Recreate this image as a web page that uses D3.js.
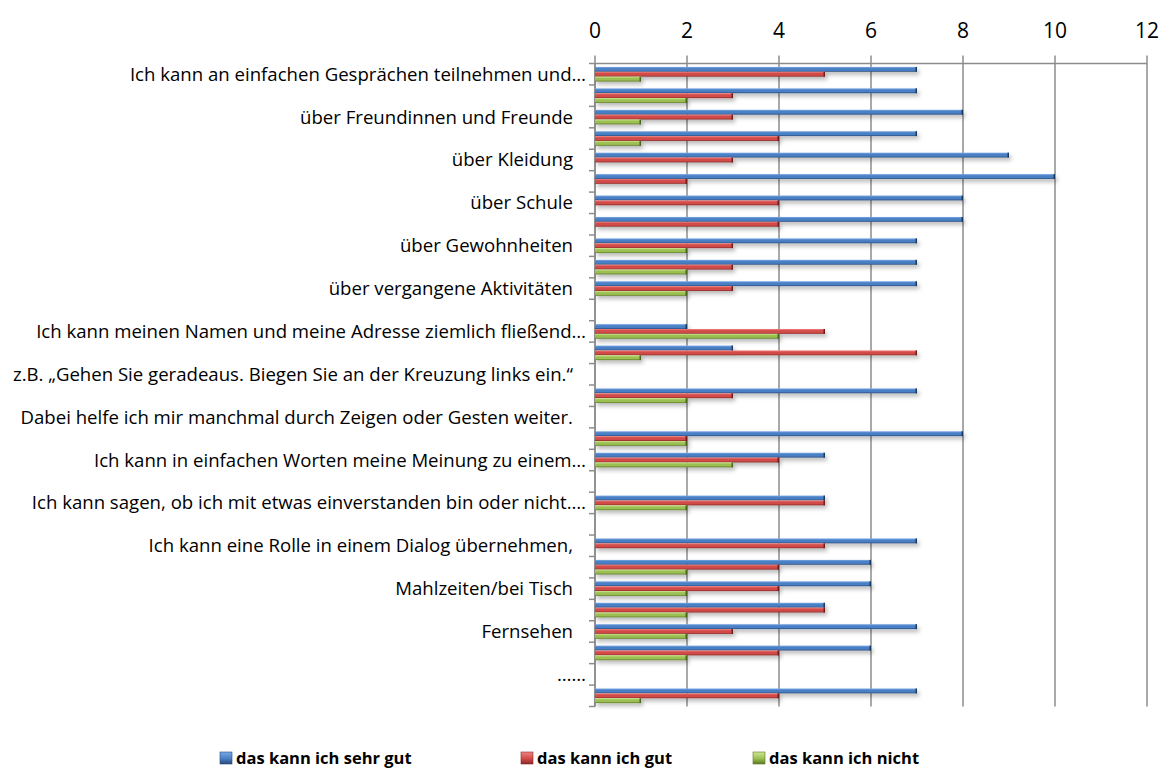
<!DOCTYPE html>
<html>
<head>
<meta charset="utf-8">
<script src="https://cdn.jsdelivr.net/npm/d3@7"></script>
<style>
  html, body { margin: 0; padding: 0; background: #fff; }
  svg { display: block; }
  text { font-family: "Open Sans", "DejaVu Sans", sans-serif; fill: #000; }
</style>
</head>
<body>
<svg id="chart" width="1169" height="769"></svg>
<script>
// Category labels (only every other category carries a visible label)
const categories = [
  "Ich kann an einfachen Gesprächen teilnehmen und…", "",
  "über Freundinnen und Freunde", "",
  "über Kleidung", "",
  "über Schule", "",
  "über Gewohnheiten", "",
  "über vergangene Aktivitäten", "",
  "Ich kann meinen Namen und meine Adresse ziemlich fließend…", "",
  "z.B. „Gehen Sie geradeaus. Biegen Sie an der Kreuzung links ein.“", "",
  "Dabei helfe ich mir manchmal durch Zeigen oder Gesten weiter.", "",
  "Ich kann in einfachen Worten meine Meinung zu einem…", "",
  "Ich kann sagen, ob ich mit etwas einverstanden bin oder nicht.…", "",
  "Ich kann eine Rolle in einem Dialog übernehmen,", "",
  "Mahlzeiten/bei Tisch", "",
  "Fernsehen", "",
  "……", ""
];

// Series values, one per category (top to bottom)
const sehrGut = [7, 7, 8, 7, 9, 10, 8, 8, 7, 7, 7, 0, 2, 3, 0, 7, 0, 8, 5, 0, 5, 0, 7, 6, 6, 5, 7, 6, 0, 7];
const gut     = [5, 3, 3, 4, 3, 2, 4, 4, 3, 3, 3, 0, 5, 7, 0, 3, 0, 2, 4, 0, 5, 0, 5, 4, 4, 5, 3, 4, 0, 4];
const nicht   = [1, 2, 1, 1, 0, 0, 0, 0, 2, 2, 2, 0, 4, 1, 0, 2, 0, 2, 3, 0, 2, 0, 0, 2, 2, 2, 2, 2, 0, 1];

const seriesNames = ["das kann ich sehr gut", "das kann ich gut", "das kann ich nicht"];
const xTicks = [0, 2, 4, 6, 8, 10, 12];

const series = [
  { name: seriesNames[0], values: sehrGut, key: "blue" },
  { name: seriesNames[1], values: gut,     key: "red" },
  { name: seriesNames[2], values: nicht,   key: "green" }
];

// Bar shading: light top, base colour, dark lower edge
const palette = {
  blue:  { top: "#7aa8e6", mid: "#4a7fc4", bot: "#29497a", cap: "#1f3a5c" },
  red:   { top: "#f08482", mid: "#d24b48", bot: "#882a28", cap: "#6e1f1d" },
  green: { top: "#cfe890", mid: "#9cbf52", bot: "#5c7a25", cap: "#4b6520" }
};

const svg = d3.select("#chart");
const defs = svg.append("defs");

Object.entries(palette).forEach(([k, c]) => {
  const g = defs.append("linearGradient")
    .attr("id", "grad-" + k).attr("x1", 0).attr("y1", 0).attr("x2", 0).attr("y2", 1);
  g.append("stop").attr("offset", "0%").attr("stop-color", c.top);
  g.append("stop").attr("offset", "35%").attr("stop-color", c.mid);
  g.append("stop").attr("offset", "70%").attr("stop-color", c.mid);
  g.append("stop").attr("offset", "100%").attr("stop-color", c.bot);

  const lg = defs.append("linearGradient")
    .attr("id", "leg-" + k).attr("x1", 0).attr("y1", 0).attr("x2", 0).attr("y2", 1);
  lg.append("stop").attr("offset", "0%").attr("stop-color", c.top);
  lg.append("stop").attr("offset", "55%").attr("stop-color", c.mid);
  lg.append("stop").attr("offset", "100%").attr("stop-color", c.bot);
});

const shadow = defs.append("filter").attr("id", "shadow")
  .attr("x", "-5%").attr("y", "-50%").attr("width", "115%").attr("height", "250%");
shadow.append("feDropShadow")
  .attr("dx", 2).attr("dy", 3).attr("stdDeviation", 2)
  .attr("flood-color", "#000").attr("flood-opacity", 0.28);

// Scales
const x = d3.scaleLinear().domain([0, 12]).range([595, 1147]);
const y = d3.scaleBand()
  .domain(d3.range(categories.length))
  .range([63.5, 706.5])
  .paddingInner(0.32)
  .paddingOuter(0.16);
const ySub = d3.scaleBand()
  .domain(series.map(s => s.key))
  .range([0, y.bandwidth()]);

const step = y.step();
const plotTop = y.range()[0];
const plotBottom = y.range()[1];
const gridColor = "#8c8c8c";

// Vertical gridlines with outward ticks above the top axis
svg.append("g").selectAll("line")
  .data(xTicks)
  .join("line")
  .attr("x1", d => x(d)).attr("x2", d => x(d))
  .attr("y1", plotTop - 8).attr("y2", plotBottom)
  .attr("stroke", gridColor).attr("stroke-width", 1.5);

// Top axis line
svg.append("line")
  .attr("x1", x(0)).attr("x2", x(12))
  .attr("y1", plotTop).attr("y2", plotTop)
  .attr("stroke", gridColor).attr("stroke-width", 1.5);

// Top axis tick labels
svg.append("g").selectAll("text")
  .data(xTicks)
  .join("text")
  .attr("x", d => x(d))
  .attr("y", 38)
  .attr("text-anchor", "middle")
  .attr("font-size", 21)
  .text(d => d);

// Left category axis: line plus ticks at category boundaries
svg.append("line")
  .attr("x1", x(0)).attr("x2", x(0))
  .attr("y1", plotTop).attr("y2", plotBottom)
  .attr("stroke", gridColor).attr("stroke-width", 1.5);
svg.append("g").selectAll("line")
  .data(d3.range(categories.length + 1))
  .join("line")
  .attr("x1", x(0) - 6).attr("x2", x(0))
  .attr("y1", i => plotTop + i * step).attr("y2", i => plotTop + i * step)
  .attr("stroke", gridColor).attr("stroke-width", 1.5);

// Category labels
svg.append("g").selectAll("text")
  .data(categories.map((c, i) => ({ c, i })).filter(d => d.c !== ""))
  .join("text")
  .attr("x", d => d.c.endsWith("…") ? 586 : 573)
  .attr("y", d => plotTop + (d.i + 0.5) * step)
  .attr("dy", "0.35em")
  .attr("text-anchor", "end")
  .attr("font-size", 18.6)
  .text(d => d.c);

// Bars
const barData = [];
categories.forEach((c, i) => {
  series.forEach(s => {
    if (s.values[i] > 0) barData.push({ i, key: s.key, v: s.values[i] });
  });
});

const bars = svg.append("g").attr("filter", "url(#shadow)");
bars.selectAll("rect.bar")
  .data(barData)
  .join("rect")
  .attr("class", "bar")
  .attr("x", x(0))
  .attr("y", d => y(d.i) + ySub(d.key))
  .attr("width", d => x(d.v) - x(0))
  .attr("height", ySub.bandwidth())
  .attr("fill", d => `url(#grad-${d.key})`);
bars.selectAll("rect.cap")
  .data(barData)
  .join("rect")
  .attr("class", "cap")
  .attr("x", d => x(d.v) - 1.5)
  .attr("y", d => y(d.i) + ySub(d.key))
  .attr("width", 1.5)
  .attr("height", ySub.bandwidth())
  .attr("fill", d => palette[d.key].cap);

// Legend
const legendX = [220, 521, 753];
const legend = svg.append("g").selectAll("g")
  .data(series)
  .join("g")
  .attr("transform", (d, i) => `translate(${legendX[i]},752)`);
legend.append("rect")
  .attr("width", 12).attr("height", 12)
  .attr("fill", d => `url(#leg-${d.key})`)
  .attr("stroke", d => palette[d.key].bot).attr("stroke-width", 0.6);
legend.append("text")
  .attr("x", 16).attr("y", 6).attr("dy", "0.35em")
  .attr("font-size", 16.5).attr("font-weight", "bold")
  .text(d => d.name);
</script>
</body>
</html>
